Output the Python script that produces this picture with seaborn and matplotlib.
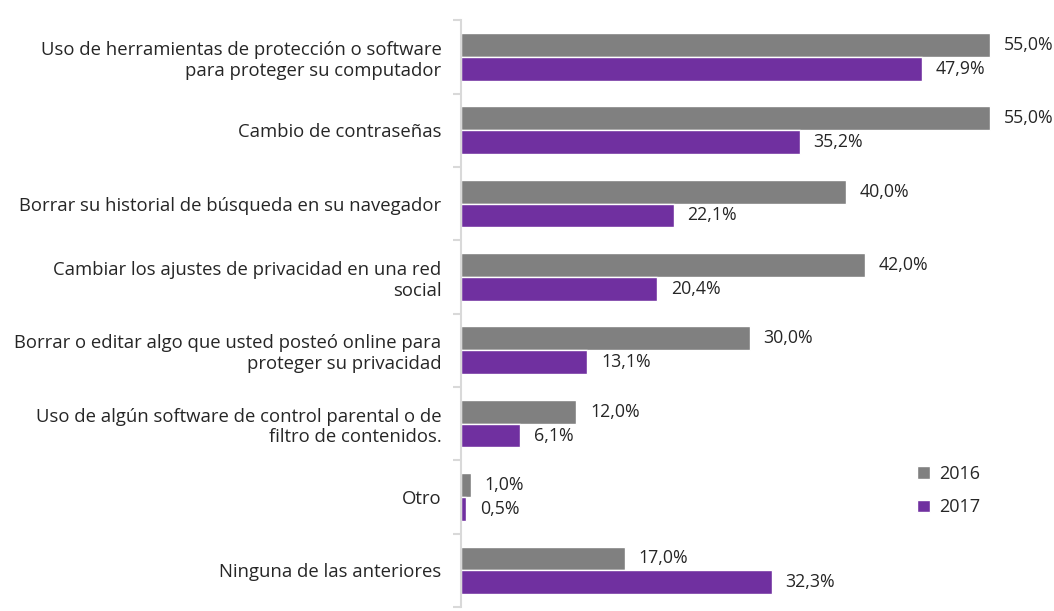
import matplotlib
matplotlib.use("Agg")
import matplotlib.pyplot as plt
import seaborn as sns
import pandas as pd
from matplotlib.ticker import FixedLocator

categorias = [
    "Uso de herramientas de protección o software\npara proteger su computador",
    "Cambio de contraseñas",
    "Borrar su historial de búsqueda en su navegador",
    "Cambiar los ajustes de privacidad en una red\nsocial",
    "Borrar o editar algo que usted posteó online para\nproteger su privacidad",
    "Uso de algún software de control parental o de\nfiltro de contenidos.",
    "Otro",
    "Ninguna de las anteriores",
]
valores_2016 = [55.0, 55.0, 40.0, 42.0, 30.0, 12.0, 1.0, 17.0]
valores_2017 = [47.9, 35.2, 22.1, 20.4, 13.1, 6.1, 0.5, 32.3]
anios = ["2016", "2017"]

df = pd.DataFrame({
    "categoria": categorias * 2,
    "valor": valores_2016 + valores_2017,
    "anio": [anios[0]] * len(categorias) + [anios[1]] * len(categorias),
})

sns.set_style("white")
plt.rcParams["font.family"] = ["Open Sans", "DejaVu Sans"]
texto = "#262626"

fig = plt.figure(figsize=(10.54, 6.11), dpi=100)
ax = fig.add_axes([0.4374, 0.0065, 0.5566, 0.9605])

sns.barplot(data=df, y="categoria", x="valor", hue="anio", order=categorias,
            hue_order=anios, palette=["#808080", "#7030A0"], orient="h",
            width=0.65, saturation=1, ax=ax)

for cont in ax.containers:
    ax.bar_label(cont, labels=[f"{v:.1f}%".replace(".", ",") for v in cont.datavalues],
                 padding=10, fontsize=12.8, color=texto)

ax.set_xlim(0, 61)
ax.set_ylim(len(categorias) - 0.5, -0.5)
ax.set_xlabel("")
ax.set_ylabel("")
ax.set_xticks([])
for s in ["top", "right", "bottom"]:
    ax.spines[s].set_visible(False)
ax.spines["left"].set_color("#D9D9D9")
ax.spines["left"].set_linewidth(1.5)
ax.tick_params(axis="y", which="major", length=0, pad=14, labelsize=13.3, labelcolor=texto)
ax.yaxis.set_minor_locator(FixedLocator([i - 0.5 for i in range(len(categorias) + 1)]))
ax.tick_params(axis="y", which="minor", length=6, width=1.5, color="#D9D9D9", left=True)
for t in ax.get_yticklabels():
    t.set_horizontalalignment("right")
    t.set_multialignment("right")

ax.legend(loc="upper left", bbox_to_anchor=(0.75, 0.27), frameon=False, fontsize=13,
          handlelength=0.7, handleheight=0.7, handletextpad=0.5, labelspacing=0.85,
          labelcolor=texto)

fig.savefig("out.png", dpi=100)
